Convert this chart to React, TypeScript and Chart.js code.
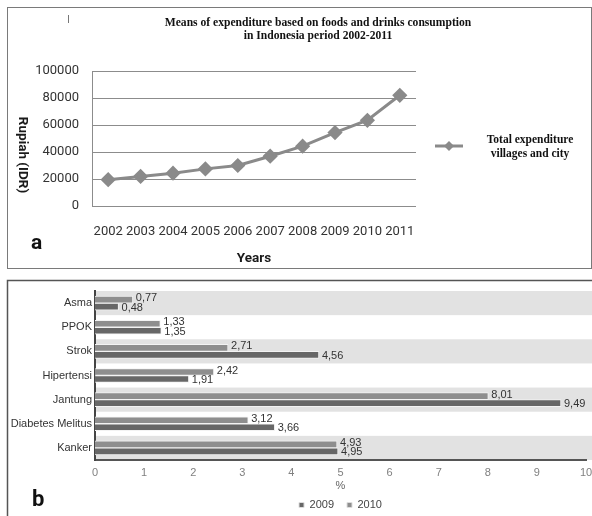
import React, { useEffect, useRef } from "react";
import { Chart, registerables } from "chart.js";

Chart.register(...registerables);

// ---- Panel a data ----
const years = ["2002", "2003", "2004", "2005", "2006", "2007", "2008", "2009", "2010", "2011"];
const expenditure = [19500, 21900, 24300, 27500, 30000, 36900, 44300, 54400, 63500, 82000];
const yTicks = [0, 20000, 40000, 60000, 80000, 100000];
const titleLines = ["Means of expenditure based on foods and drinks consumption", "in Indonesia period 2002-2011"];
const legendLines = ["Total expenditure", "villages and city"];

// ---- Panel b data ----
const diseases = ["Asma", "PPOK", "Strok", "Hipertensi", "Jantung", "Diabetes Melitus", "Kanker"];
const values2009 = [0.48, 1.35, 4.56, 1.91, 9.49, 3.66, 4.95];
const values2010 = [0.77, 1.33, 2.71, 2.42, 8.01, 3.12, 4.93];

const LINE_GREY = "#8a8a8a";
const SERIF = "'Liberation Serif', 'Times New Roman', serif";
const SANS = "Roboto, 'Liberation Sans', sans-serif";
const ARIAL = "'Liberation Sans', Arial, sans-serif";

const W = 592;
const H = 516;
const HA = 274;
const HB = 250; // extends slightly below the page, clipped

export default function App() {
  const refA = useRef<HTMLCanvasElement | null>(null);
  const refB = useRef<HTMLCanvasElement | null>(null);

  useEffect(() => {
    const decoA = {
      id: "decoA",
      afterDraw(chart: any) {
        const ctx = chart.ctx;
        ctx.save();
        ctx.strokeStyle = "#7a7a7a";
        ctx.lineWidth = 1;
        ctx.strokeRect(7.5, 7.5, 584, 261);
        ctx.fillStyle = "#111";
        ctx.font = `bold 11.6px ${SERIF}`;
        ctx.textAlign = "center";
        ctx.textBaseline = "middle";
        ctx.fillText(titleLines[0], 318, 23);
        ctx.fillText(titleLines[1], 318, 36);
        ctx.fillStyle = "#777";
        ctx.fillRect(68, 15, 1, 8);
        ctx.save();
        ctx.translate(22, 155);
        ctx.rotate(Math.PI / 2);
        ctx.fillStyle = "#1a1a1a";
        ctx.font = `bold 13.5px ${SANS}`;
        ctx.fillText("Rupiah (IDR)", 0, 0);
        ctx.restore();
        const ly = 146;
        ctx.strokeStyle = LINE_GREY;
        ctx.lineWidth = 3;
        ctx.beginPath();
        ctx.moveTo(435, ly);
        ctx.lineTo(463, ly);
        ctx.stroke();
        ctx.fillStyle = LINE_GREY;
        ctx.beginPath();
        ctx.moveTo(449, ly - 5);
        ctx.lineTo(454, ly);
        ctx.lineTo(449, ly + 5);
        ctx.lineTo(444, ly);
        ctx.closePath();
        ctx.fill();
        ctx.fillStyle = "#111";
        ctx.font = `bold 11.5px ${SERIF}`;
        ctx.textAlign = "center";
        ctx.fillText(legendLines[0], 530, 140);
        ctx.fillText(legendLines[1], 530, 154);
        ctx.font = `bold 21px ${SANS}`;
        ctx.fillStyle = "#111";
        ctx.textAlign = "left";
        ctx.fillText("a", 31, 244);
        ctx.restore();
      },
    };

    const chartA = new Chart(refA.current as HTMLCanvasElement, {
      type: "line",
      data: {
        labels: years,
        datasets: [
          {
            label: "Total expenditure villages and city",
            data: expenditure,
            borderColor: LINE_GREY,
            backgroundColor: LINE_GREY,
            borderWidth: 3,
            pointStyle: "rectRot",
            pointRadius: 5.5,
            pointBackgroundColor: LINE_GREY,
            pointBorderColor: LINE_GREY,
            tension: 0,
          },
        ],
      },
      options: {
        responsive: false,
        animation: false,
        layout: { padding: { left: 0, right: 176, top: 71, bottom: 0 } },
        plugins: { legend: { display: false }, title: { display: false }, tooltip: { enabled: false } },
        scales: {
          x: {
            type: "category",
            offset: true,
            grid: { display: false },
            border: { display: false },
            ticks: { color: "#333", font: { family: SANS, size: 13 }, padding: 10, maxRotation: 0 },
            title: {
              display: true,
              text: "Years",
              color: "#1a1a1a",
              font: { family: SANS, size: 13.5, weight: "bold" },
              padding: { top: 0, bottom: 7 },
            },
            afterFit: (s: any) => {
              s.height = HA - 206;
            },
          },
          y: {
            min: 0,
            max: 100000,
            afterBuildTicks: (s: any) => {
              s.ticks = yTicks.map((v) => ({ value: v }));
            },
            grid: { color: "#8c8c8c", lineWidth: 1, drawTicks: false },
            border: { display: true, color: "#8c8c8c", width: 1 },
            ticks: {
              color: "#333",
              font: { family: SANS, size: 13 },
              padding: 13,
              callback: (v: any) => String(v),
            },
            afterFit: (s: any) => {
              s.width = 92;
            },
          },
        },
      },
      plugins: [decoA],
    } as any);

    const bandsB = {
      id: "bandsB",
      beforeDraw(chart: any) {
        const ctx = chart.ctx;
        const ys = chart.scales.y;
        const area = chart.chartArea;
        const row = (area.bottom - area.top) / diseases.length;
        ctx.save();
        ctx.fillStyle = "#e2e2e2";
        diseases.forEach((_, i) => {
          if (i % 2 === 0) {
            const c = ys.getPixelForValue(i);
            ctx.fillRect(area.left + 1, c - row / 2, W - area.left, row);
          }
        });
        ctx.restore();
      },
      afterDatasetsDraw(chart: any) {
        const ctx = chart.ctx;
        ctx.save();
        ctx.font = `11px ${ARIAL}`;
        ctx.fillStyle = "#333";
        ctx.textAlign = "left";
        ctx.textBaseline = "middle";
        chart.data.datasets.forEach((ds: any, di: number) => {
          const meta = chart.getDatasetMeta(di);
          meta.data.forEach((bar: any, i: number) => {
            const txt = ds.data[i].toFixed(2).replace(".", ",");
            ctx.fillText(txt, bar.x + 3, bar.y + (di === 0 ? -1.5 : 1));
          });
        });
        ctx.restore();
      },
      afterDraw(chart: any) {
        const ctx = chart.ctx;
        ctx.save();
        ctx.strokeStyle = "#555";
        ctx.lineWidth = 1.5;
        ctx.beginPath();
        ctx.moveTo(7.5, HB);
        ctx.lineTo(7.5, 6.5);
        ctx.lineTo(W, 6.5);
        ctx.stroke();
        ctx.fillStyle = "#111";
        ctx.font = `bold 22px ${SANS}`;
        ctx.textAlign = "left";
        ctx.textBaseline = "middle";
        ctx.fillText("b", 32, 226);
        ctx.restore();
      },
    };

    const chartB = new Chart(refB.current as HTMLCanvasElement, {
      type: "bar",
      data: {
        labels: diseases,
        datasets: [
          {
            label: "2010",
            data: values2010,
            backgroundColor: "#8e8e8e",
            borderColor: "#f3f3f3",
            borderWidth: 1,
            barThickness: 7,
            categoryPercentage: 0.68,
          },
          {
            label: "2009",
            data: values2009,
            backgroundColor: "#676767",
            borderColor: "#f3f3f3",
            borderWidth: 1,
            barThickness: 7,
            categoryPercentage: 0.68,
          },
        ],
      },
      options: {
        indexAxis: "y",
        responsive: false,
        animation: false,
        layout: { padding: { left: 0, right: 0, top: 17, bottom: 3.5 } },
        plugins: {
          tooltip: { enabled: false },
          legend: {
            display: true,
            position: "bottom",
            fullSize: false,
            reverse: true,
            labels: {
              boxWidth: 5,
              boxHeight: 5,
              padding: 13,
              color: "#444",
              font: { family: ARIAL, size: 11 },
              generateLabels: (chart: any) =>
                chart.data.datasets.map((ds: any, i: number) => ({
                  text: ds.label,
                  fillStyle: ds.backgroundColor,
                  strokeStyle: "#ddd",
                  lineWidth: 1,
                  datasetIndex: i,
                  hidden: false,
                  fontColor: "#444",
                })),
            },
          },
        },
        scales: {
          x: {
            min: 0,
            max: 10,
            ticks: { stepSize: 1, color: "#808080", font: { family: ARIAL, size: 11 }, padding: 6 },
            grid: { display: false, drawTicks: false },
            border: { display: true, color: "#555", width: 2 },
            title: {
              display: true,
              text: "%",
              color: "#666",
              font: { family: ARIAL, size: 11 },
              padding: { top: 0, bottom: -6.5 },
            },
            afterFit: (s: any) => {
              s.height = 26.5;
              s.paddingRight = 6;
            },
          },
          y: {
            grid: { display: false, drawTicks: false },
            border: { display: true, color: "#444", width: 2 },
            ticks: { color: "#333", font: { family: ARIAL, size: 11 }, padding: 3 },
            afterFit: (s: any) => {
              s.width = 95;
            },
          },
        },
      },
      plugins: [bandsB],
    } as any);

    return () => {
      chartA.destroy();
      chartB.destroy();
    };
  }, []);

  return (
    <div style={{ position: "absolute", left: 0, top: 0, width: W, height: H, overflow: "hidden", background: "#fff" }}>
      <canvas ref={refA} width={W} height={HA} style={{ position: "absolute", left: 0, top: 0, width: W, height: HA }} />
      <canvas ref={refB} width={W} height={HB} style={{ position: "absolute", left: 0, top: HA, width: W, height: HB }} />
    </div>
  );
}
